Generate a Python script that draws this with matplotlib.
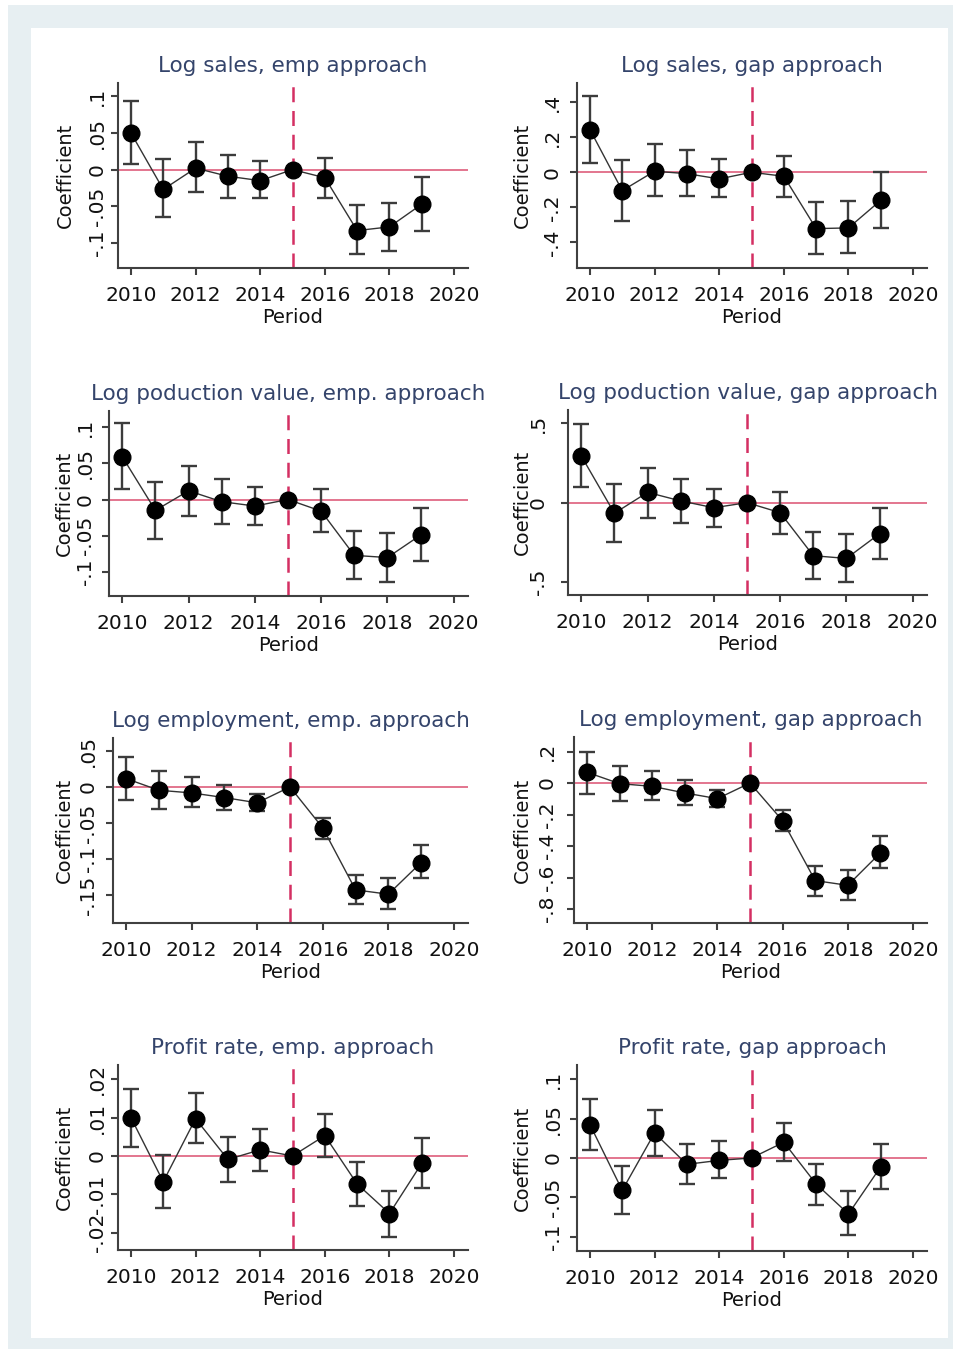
import numpy as np
import matplotlib
matplotlib.use("Agg")
import matplotlib.pyplot as plt
import matplotlib.patches as patches
from matplotlib.ticker import FuncFormatter

# Años del estudio de eventos
years = np.array([2010, 2011, 2012, 2013, 2014, 2015, 2016, 2017, 2018, 2019])

# Log sales, emp approach
sales_emp = [0.050, -0.027, 0.002, -0.009, -0.015, 0.0, -0.011, -0.083, -0.078, -0.047]
sales_emp_lo = [0.007, -0.065, -0.030, -0.039, -0.039, np.nan, -0.038, -0.115, -0.111, -0.083]
sales_emp_hi = [0.093, 0.014, 0.037, 0.020, 0.012, np.nan, 0.016, -0.048, -0.045, -0.010]

# Log sales, gap approach
sales_gap = [0.244, -0.105, 0.006, -0.008, -0.038, 0.0, -0.023, -0.322, -0.318, -0.160]
sales_gap_lo = [0.053, -0.280, -0.137, -0.137, -0.143, np.nan, -0.143, -0.469, -0.463, -0.318]
sales_gap_hi = [0.434, 0.072, 0.160, 0.130, 0.076, np.nan, 0.095, -0.171, -0.166, 0.000]

# Log poduction value, emp. approach
prod_emp = [0.059, -0.015, 0.012, -0.003, -0.009, 0.0, -0.016, -0.077, -0.080, -0.049]
prod_emp_lo = [0.015, -0.055, -0.023, -0.034, -0.035, np.nan, -0.045, -0.109, -0.114, -0.085]
prod_emp_hi = [0.105, 0.024, 0.046, 0.028, 0.017, np.nan, 0.014, -0.043, -0.046, -0.012]

# Log poduction value, gap approach
prod_gap = [0.295, -0.067, 0.065, 0.011, -0.032, 0.0, -0.063, -0.335, -0.352, -0.196]
prod_gap_lo = [0.097, -0.246, -0.095, -0.128, -0.152, np.nan, -0.196, -0.482, -0.501, -0.354]
prod_gap_hi = [0.497, 0.116, 0.217, 0.149, 0.086, np.nan, 0.065, -0.183, -0.200, -0.032]

# Log employment, emp. approach
empl_emp = [0.0116, -0.0046, -0.0083, -0.0148, -0.022, 0.0, -0.057, -0.143, -0.149, -0.105]
empl_emp_lo = [-0.0185, -0.030, -0.028, -0.032, -0.034, np.nan, -0.072, -0.163, -0.169, -0.126]
empl_emp_hi = [0.042, 0.022, 0.0134, 0.0028, -0.0093, np.nan, -0.043, -0.122, -0.127, -0.081]

# Log employment, gap approach
empl_gap = [0.068, -0.004, -0.021, -0.063, -0.099, 0.0, -0.239, -0.619, -0.649, -0.443]
empl_gap_lo = [-0.068, -0.116, -0.106, -0.142, -0.152, np.nan, -0.307, -0.715, -0.744, -0.541]
empl_gap_hi = [0.200, 0.110, 0.076, 0.021, -0.042, np.nan, -0.173, -0.524, -0.552, -0.338]

# Profit rate, emp. approach
profit_emp = [0.0100, -0.0067, 0.0097, -0.0009, 0.0016, 0.0, 0.0053, -0.0073, -0.0150, -0.0019]
profit_emp_lo = [0.0024, -0.0135, 0.0033, -0.0067, -0.0038, np.nan, -0.0003, -0.0130, -0.0210, -0.0084]
profit_emp_hi = [0.0174, 0.0003, 0.0165, 0.0050, 0.0070, np.nan, 0.0110, -0.0017, -0.0090, 0.0046]

# Profit rate, gap approach
profit_gap = [0.0424, -0.041, 0.0318, -0.008, -0.003, 0.0, 0.020, -0.033, -0.071, -0.011]
profit_gap_lo = [0.0097, -0.0716, 0.0025, -0.033, -0.025, np.nan, -0.004, -0.059, -0.098, -0.039]
profit_gap_hi = [0.0754, -0.010, 0.0614, 0.018, 0.022, np.nan, 0.044, -0.008, -0.042, 0.018]

titles = [
    "Log sales, emp approach", "Log sales, gap approach",
    "Log poduction value, emp. approach", "Log poduction value, gap approach",
    "Log employment, emp. approach", "Log employment, gap approach",
    "Profit rate, emp. approach", "Profit rate, gap approach",
]
coefs = [sales_emp, sales_gap, prod_emp, prod_gap, empl_emp, empl_gap, profit_emp, profit_gap]
lows = [sales_emp_lo, sales_gap_lo, prod_emp_lo, prod_gap_lo,
        empl_emp_lo, empl_gap_lo, profit_emp_lo, profit_gap_lo]
highs = [sales_emp_hi, sales_gap_hi, prod_emp_hi, prod_gap_hi,
         empl_emp_hi, empl_gap_hi, profit_emp_hi, profit_gap_hi]
yticks = [
    [-0.1, -0.05, 0, 0.05, 0.1], [-0.4, -0.2, 0, 0.2, 0.4],
    [-0.1, -0.05, 0, 0.05, 0.1], [-0.5, 0, 0.5],
    [-0.15, -0.1, -0.05, 0, 0.05], [-0.8, -0.6, -0.4, -0.2, 0, 0.2],
    [-0.02, -0.01, 0, 0.01, 0.02], [-0.1, -0.05, 0, 0.05, 0.1],
]
ylims = [
    (-0.134, 0.118), (-0.547, 0.51), (-0.133, 0.122), (-0.583, 0.585),
    (-0.189, 0.068), (-0.888, 0.292), (-0.0245, 0.0237), (-0.118, 0.118),
]
xticks = [2010, 2012, 2014, 2016, 2018, 2020]
event_year = 2015

# Posiciones de los ejes en píxeles (izq, der, arriba, abajo), centro de etiquetas
W, H = 955, 1352
boxes = [
    (118, 468, 83, 268), (577, 927, 83, 268),
    (109, 468, 411, 596), (568, 927, 410, 595),
    (113, 468, 738, 923), (574, 927, 737, 923),
    (118, 468, 1065, 1250), (577, 927, 1065, 1251),
]
tick_label_x = [97, 552, 85, 538, 88, 547, 97, 553]
ylabel_x = [66, 523, 65, 523, 65, 523, 65, 523]

title_color = "#34446b"
zero_color = "#e06a86"
vline_color = "#d42f62"
axis_color = "#404040"


def stata_fmt(v, pos):
    if abs(v) < 1e-12:
        return "0"
    s = ("%g" % v)
    s = s.replace("0.", ".")
    return s


fig = plt.figure(figsize=(W / 100, H / 100), dpi=100)
plt.rcParams['font.family'] = ['DejaVu Sans']

# Fondo de la región del gráfico
fig.patches.append(patches.Rectangle((8 / W, 1 - 1349 / H), 945 / W, 1344 / H,
                                     transform=fig.transFigure, facecolor="#e7eff2",
                                     edgecolor="none", zorder=-10))
fig.patches.append(patches.Rectangle((31 / W, 1 - 1338 / H), 917 / W, 1310 / H,
                                     transform=fig.transFigure, facecolor="white",
                                     edgecolor="none", zorder=-9))

for i in range(8):
    l, r, t, b = boxes[i]
    ax = fig.add_axes([l / W, 1 - b / H, (r - l) / W, (b - t) / H])
    ax.patch.set_alpha(0)

    y = np.array(coefs[i])
    lo = np.array(lows[i])
    hi = np.array(highs[i])
    ok = ~np.isnan(lo)

    ax.axhline(0, color=zero_color, lw=1.3, zorder=1)
    ax.axvline(event_year, color=vline_color, lw=1.8, dashes=(6, 3.5), zorder=2)

    ax.errorbar(years[ok], y[ok], yerr=[y[ok] - lo[ok], hi[ok] - y[ok]], fmt="none",
                ecolor="#3c3c3c", elinewidth=1.7, capsize=5.5, capthick=1.7, zorder=3)
    ax.plot(years, y, color="#333333", lw=1.0, marker="o", markersize=12,
            markerfacecolor="black", markeredgecolor="black", zorder=4)

    ax.set_xlim(2009.6, 2020.43)
    ax.set_ylim(*ylims[i])
    ax.set_xticks(xticks)
    ax.set_yticks(yticks[i])
    ax.yaxis.set_major_formatter(FuncFormatter(stata_fmt))

    for side in ["top", "right"]:
        ax.spines[side].set_visible(False)
    for side in ["left", "bottom"]:
        ax.spines[side].set_color(axis_color)
        ax.spines[side].set_linewidth(1.5)

    # pad de las etiquetas del eje y (rotadas como en Stata)
    ypad_px = (l - tick_label_x[i]) - 10 - 7
    ax.tick_params(axis="both", colors=axis_color, length=5, width=1.5,
                   labelsize=14.5, labelcolor="#111111")
    ax.tick_params(axis="x", pad=8)
    ax.tick_params(axis="y", labelrotation=90, pad=max(ypad_px, 0) * 0.72)
    for lbl in ax.get_yticklabels():
        lbl.set_va("center")

    ax.set_xlabel("Period", fontsize=14, color="#111111", labelpad=2)
    ax.set_ylabel("Coefficient", fontsize=14, color="#111111")
    ax.yaxis.set_label_coords((ylabel_x[i] + 9 - l) / (r - l), 0.5)
    ax.set_title(titles[i], fontsize=15.5, color=title_color, pad=8)

fig.savefig("out.png", dpi=100, facecolor="white")
